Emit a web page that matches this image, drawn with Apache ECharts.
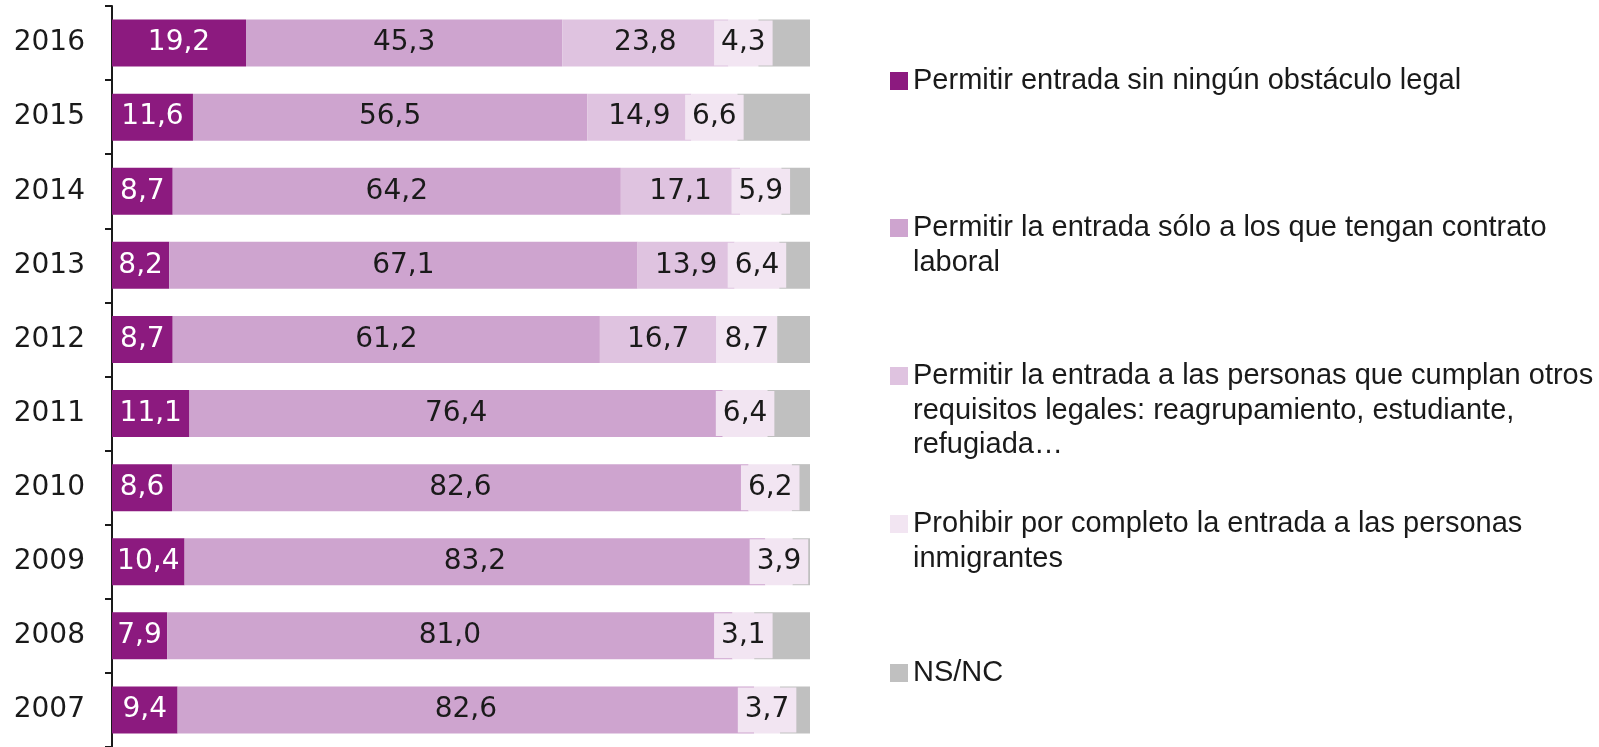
<!DOCTYPE html>
<html>
<head>
<meta charset="utf-8">
<script src="https://cdn.jsdelivr.net/npm/echarts@6/dist/echarts.min.js"></script>
<style>
	html,body{margin:0;padding:0;background:#fff;}
	#myChart{width:1599px;height:747px;}
</style>
</head>
<body>
<div id="myChart"></div>
<script>
var years = ['2016','2015','2014','2013','2012','2011','2010','2009','2008','2007'];
var sinObstaculo = [19.2,11.6,8.7,8.2,8.7,11.1,8.6,10.4,7.9,9.4];
var contrato = [45.3,56.5,64.2,67.1,61.2,76.4,82.6,83.2,81.0,82.6];
var otrosRequisitos = [23.8,14.9,17.1,13.9,16.7,'-','-','-','-','-'];
var prohibir = [4.3,6.6,5.9,6.4,8.7,6.4,6.2,3.9,3.1,3.7];
var nsnc = [7.4,10.4,4.1,4.4,4.7,6.1,2.6,2.5,8.0,4.3];

var names = [
	'Permitir entrada sin ningún obstáculo legal',
	'Permitir la entrada sólo a los que tengan contrato laboral',
	'Permitir la entrada a las personas que cumplan otros requisitos legales: reagrupamiento, estudiante, refugiada…',
	'Prohibir por completo la entrada a las personas inmigrantes',
	'NS/NC'
];
var legendLines = [
	['Permitir entrada sin ningún obstáculo legal'],
	['Permitir la entrada sólo a los que tengan contrato','laboral'],
	['Permitir la entrada a las personas que cumplan otros','requisitos legales: reagrupamiento, estudiante,','refugiada…'],
	['Prohibir por completo la entrada a las personas','inmigrantes'],
	['NS/NC']
];
var colors = ['#8C1A7F','#CEA4CF','#DFC3E0','#F2E5F2','#C0C0C0'];

var numFont = 'DejaVu Sans';
var txtFont = 'Liberation Sans';
var lh = 34.5;
var firstLineY = [81,228,376,524,673];

function fmt(p){
	return Number(p.value).toFixed(1).replace('.',',');
}

function makeSeries(idx,data,label){
	return {
		name: names[idx],
		type: 'bar',
		stack: 'total',
		barWidth: 47,
		data: data,
		itemStyle: {color: colors[idx]},
		label: label,
		emphasis: {disabled: true}
	};
}

// one legend per item; blank lines on top keep the square level with the first line
var legends = [];
for(var i = 0; i < names.length; i++){
	var n = legendLines[i].length;
	var txt = '';
	for(var k = 1; k < n; k++){ txt += '\n'; }
	txt += legendLines[i].join('\n');
	legends.push({
		left: 890,
		top: firstLineY[i] - (2*n-1)*lh/2,
		padding: 0,
		orient: 'vertical',
		itemWidth: 18,
		itemHeight: 18,
		icon: 'rect',
		data: [names[i]],
		formatter: (function(s){
			return function(){ return s; };
		})(txt),
		textStyle: {
			fontFamily: txtFont,
			fontSize: 29,
			lineHeight: lh,
			color: '#1a1a1a'
		}
	});
}

var myChart = echarts.init(document.getElementById('myChart'));
myChart.setOption({
	animation: false,
	color: colors,
	legend: legends,
	grid: {
		left: 112,
		top: 6,
		width: 698,
		height: 742
	},
	xAxis: {
		type: 'value',
		min: 0,
		max: 100,
		show: false
	},
	yAxis: {
		type: 'category',
		inverse: true,
		data: years,
		axisLine: {lineStyle: {color: '#1a1a1a', width: 2}},
		axisTick: {show: true, length: 7, lineStyle: {color: '#1a1a1a', width: 2}},
		axisLabel: {
			margin: 27,
			fontFamily: numFont,
			fontSize: 28,
			color: '#1a1a1a'
		}
	},
	series: [
		makeSeries(0,sinObstaculo,{show:true,position:'inside',formatter:fmt,fontFamily:numFont,fontSize:28,color:'#fff'}),
		makeSeries(1,contrato,{show:true,position:'inside',formatter:fmt,fontFamily:numFont,fontSize:28,color:'#1a1a1a'}),
		makeSeries(2,otrosRequisitos,{show:true,position:'inside',formatter:fmt,fontFamily:numFont,fontSize:28,color:'#1a1a1a'}),
		makeSeries(3,prohibir,{show:true,position:'inside',formatter:fmt,fontFamily:numFont,fontSize:28,color:'#1a1a1a',
			backgroundColor:colors[3],padding:[5,7],lineHeight:35}),
		makeSeries(4,nsnc,{show:false})
	]
});
</script>
</body>
</html>
